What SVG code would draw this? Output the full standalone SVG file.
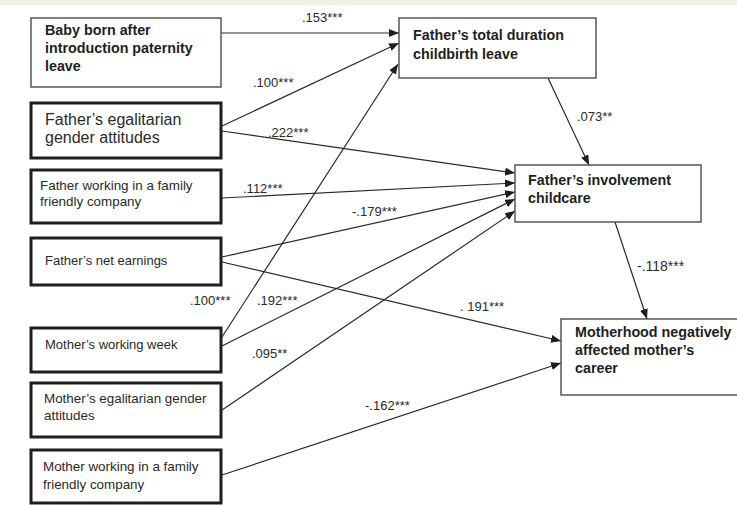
<svg xmlns="http://www.w3.org/2000/svg" width="737" height="505" viewBox="0 0 737 505">
<style>
.bg{fill:#ffffff}
.thin{fill:#ffffff;stroke:#4a4a4a;stroke-width:1.4}
.thick{fill:#ffffff;stroke:#1e1e1e;stroke-width:3}
.t{font-family:"Liberation Sans",Arial,sans-serif;font-size:13.4px;fill:#2a2a2a}
.b{font-family:"Liberation Sans",Arial,sans-serif;font-size:14.3px;font-weight:bold;fill:#1e1e1e}
.lbl{font-family:"Liberation Sans",Arial,sans-serif;font-size:13px;fill:#2a2a2a}
.ln{stroke:#2a2a2a;stroke-width:1.2;fill:none;marker-end:url(#ah)}
</style>
<defs>
<marker id="ah" markerUnits="userSpaceOnUse" markerWidth="10" markerHeight="8" refX="10" refY="4" orient="auto">
<path d="M0,0 L10,4 L0,8 Z" fill="#1e1e1e"/>
</marker>
</defs>
<rect class="bg" x="0" y="0" width="737" height="505"/>
<rect x="0" y="0" width="737" height="5" fill="#eef1df"/>

<g id="connectors">
<line class="ln" x1="221" y1="33" x2="399" y2="33"/>
<line class="ln" x1="222" y1="126" x2="399" y2="43"/>
<line class="ln" x1="222" y1="131" x2="515" y2="173"/>
<line class="ln" x1="222" y1="198" x2="515" y2="183"/>
<line class="ln" x1="222" y1="257" x2="515" y2="192"/>
<line class="ln" x1="222" y1="262" x2="561" y2="341"/>
<line class="ln" x1="222" y1="337" x2="398" y2="64"/>
<line class="ln" x1="222" y1="346" x2="515" y2="199"/>
<line class="ln" x1="222" y1="410" x2="515" y2="211"/>
<line class="ln" x1="222" y1="475" x2="561" y2="363"/>
<line class="ln" x1="548" y1="78" x2="589" y2="165"/>
<line class="ln" x1="615" y1="222" x2="647" y2="319"/>
<text class="lbl" x="302" y="22">.153***</text>
<text class="lbl" x="253" y="87">.100***</text>
<text class="lbl" x="268" y="137">.222***</text>
<text class="lbl" x="243" y="193">.112***</text>
<text class="lbl" x="352" y="216">-.179***</text>
<text class="lbl" x="190" y="305">.100***</text>
<text class="lbl" x="257" y="305">.192***</text>
<text class="lbl" x="460" y="311">. 191***</text>
<text class="lbl" x="252" y="358">.095**</text>
<text class="lbl" x="365" y="410">-.162***</text>
<text class="lbl" x="577" y="121">.073**</text>
<text class="lbl" x="637" y="271" style="font-size:14px">-.118***</text>
</g>

<g id="baby">
<rect class="thin" x="31" y="18" width="190" height="69"/>
<text class="b" x="45" y="35">Baby born after</text>
<text class="b" x="45" y="53">introduction paternity</text>
<text class="b" x="45" y="71">leave</text>
</g>
<g id="fegal">
<rect class="thick" x="31" y="103" width="190" height="55"/>
<text class="t" x="45" y="125" style="font-size:16px">Father’s egalitarian</text>
<text class="t" x="45" y="143" style="font-size:16px">gender attitudes</text>
</g>
<g id="fwork">
<rect class="thick" x="31" y="170" width="190" height="53"/>
<text class="t" x="40" y="190">Father working in a family</text>
<text class="t" x="40" y="206">friendly company</text>
</g>
<g id="fnet">
<rect class="thick" x="31" y="238" width="190" height="47"/>
<text class="t" x="45" y="265" style="font-size:13px">Father’s net earnings</text>
</g>
<g id="mweek">
<rect class="thick" x="31" y="328" width="190" height="44"/>
<text class="t" x="45" y="349" style="font-size:13px">Mother’s working week</text>
</g>
<g id="megal">
<rect class="thick" x="31" y="383" width="190" height="54"/>
<text class="t" x="44" y="403">Mother’s egalitarian gender</text>
<text class="t" x="44" y="420">attitudes</text>
</g>
<g id="mwork">
<rect class="thick" x="31" y="450" width="190" height="53"/>
<text class="t" x="43" y="471">Mother working in a family</text>
<text class="t" x="43" y="489">friendly company</text>
</g>
<g id="ftotal">
<rect class="thin" x="399" y="18" width="197" height="60"/>
<text class="b" x="413" y="40">Father’s total duration</text>
<text class="b" x="413" y="59">childbirth leave</text>
</g>
<g id="finv">
<rect class="thin" x="515" y="165" width="186" height="57"/>
<text class="b" x="528" y="185">Father’s involvement</text>
<text class="b" x="528" y="203">childcare</text>
</g>
<g id="mcareer">
<rect class="thin" x="561" y="319" width="182" height="76"/>
<text class="b" x="575" y="337">Motherhood negatively</text>
<text class="b" x="575" y="355">affected mother’s</text>
<text class="b" x="575" y="373">career</text>
</g>
</svg>
